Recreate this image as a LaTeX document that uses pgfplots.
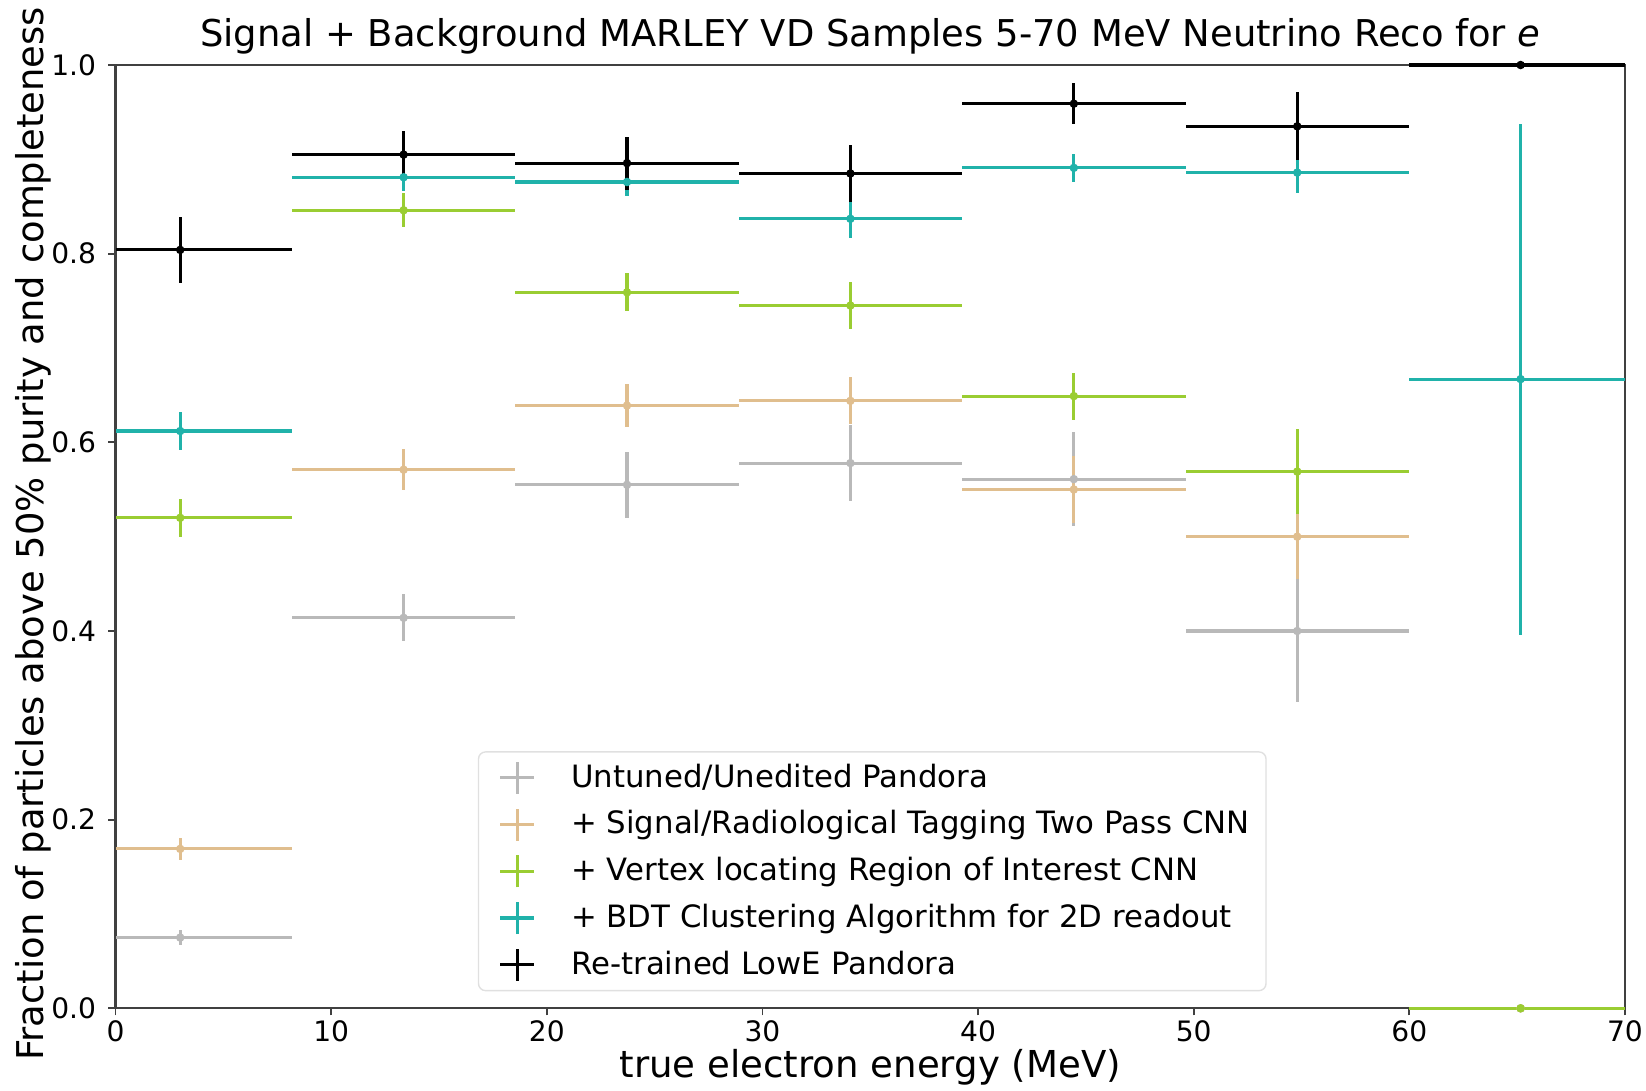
\documentclass[border=0pt]{standalone}
\usepackage{fontspec}
\setmainfont{DejaVu Sans}
\usepackage{pgfplots}
\usepackage{pgfplotstable}
\pgfplotsset{compat=1.18}
\usetikzlibrary{calc}
\definecolor{cgray}{RGB}{185,185,185}
\definecolor{ctan}{RGB}{224,190,142}
\definecolor{cgreen}{RGB}{154,205,50}
\definecolor{ccyan}{RGB}{32,178,170}
\definecolor{cblack}{RGB}{0,0,0}

\pgfplotstableread{
x y xm xp ey
3.00 0.075 3.00 5.18 0.008
13.36 0.414 5.18 5.18 0.025
23.72 0.555 5.18 5.18 0.035
34.08 0.578 5.18 5.18 0.040
44.44 0.561 5.18 5.18 0.050
54.80 0.400 5.18 5.18 0.075
65.16 0.000 5.18 4.84 0.000
}\tgray
\pgfplotstableread{
x y xm xp ey
3.00 0.169 3.00 5.18 0.012
13.36 0.571 5.18 5.18 0.022
23.72 0.639 5.18 5.18 0.023
34.08 0.644 5.18 5.18 0.025
44.44 0.550 5.18 5.18 0.035
54.80 0.500 5.18 5.18 0.045
65.16 0.000 5.18 4.84 0.000
}\ttan
\pgfplotstableread{
x y xm xp ey
3.00 0.520 3.00 5.18 0.020
13.36 0.846 5.18 5.18 0.018
23.72 0.759 5.18 5.18 0.020
34.08 0.745 5.18 5.18 0.025
44.44 0.649 5.18 5.18 0.025
54.80 0.569 5.18 5.18 0.045
65.16 0.000 5.18 4.84 0.000
}\tgreen
\pgfplotstableread{
x y xm xp ey
3.00 0.612 3.00 5.18 0.020
13.36 0.881 5.18 5.18 0.015
23.72 0.876 5.18 5.18 0.015
34.08 0.837 5.18 5.18 0.020
44.44 0.891 5.18 5.18 0.015
54.80 0.886 5.18 5.18 0.022
65.16 0.667 5.18 4.84 0.271
}\tcyan
\pgfplotstableread{
x y xm xp ey
3.00 0.804 3.00 5.18 0.035
13.36 0.905 5.18 5.18 0.025
23.72 0.896 5.18 5.18 0.028
34.08 0.885 5.18 5.18 0.030
44.44 0.959 5.18 5.18 0.022
54.80 0.935 5.18 5.18 0.036
65.16 1.000 5.18 4.84 0.000
}\tblack

\newcommand{\legcross}[1]{\path (0cm,0cm); \draw[#1,line width=0.9pt] (0.10cm,0cm)--(0.44cm,0cm) (0.27cm,-0.16cm)--(0.27cm,0.16cm);}
\pgfplotsset{
  ebar/.style={
    only marks, mark=*, mark size=1.0pt, color=#1,
    legend image code/.code={\legcross{#1}},
    error bars/x dir=both, error bars/x explicit,
    error bars/y dir=both, error bars/y explicit,
    error bars/error mark=none,
    error bars/error bar style={line width=0.9pt, color=#1},
  },
}

\begin{document}
\begin{tikzpicture}
\begin{axis}[
  name=ax,
  scale only axis,
  width=15.09cm, height=9.43cm,
  xmin=0, xmax=70, ymin=0, ymax=1.0,
  clip=false,
  axis line style={black!75, line width=0.6pt},
  xtick={0,10,20,30,40,50,60,70},
  ytick={0,0.2,0.4,0.6,0.8,1.0},
  yticklabel style={/pgf/number format/.cd, fixed, fixed zerofill, precision=1},
  /pgf/number format/assume math mode=true,
  ticklabel style={font=\fontsize{8}{9.5}\selectfont},
  xticklabel style={yshift=2pt},
  tick align=outside,
  major tick length=2pt,
  tick style={black!75, line width=0.5pt},
  xtick pos=bottom, ytick pos=left,
  title={Signal + Background MARLEY VD Samples 5-70 MeV Neutrino Reco for \textit{e}},
  every axis title/.style={at={(axis description cs:0.5,1.03)}, anchor=center, font=\fontsize{10.5}{12}\selectfont},
  xlabel={true electron energy (MeV)},
  ylabel={Fraction of particles above 50\% purity and completeness},
  every axis x label/.style={at={(axis description cs:0.5,-0.0626)}, anchor=center, font=\fontsize{10.55}{12}\selectfont},
  every axis y label/.style={at={(axis description cs:-0.0545,0.503)}, anchor=center, rotate=90, font=\fontsize{10.5}{12}\selectfont},
  legend style={at={(axis description cs:0.24,0.018)}, anchor=south west,
    draw=black!12, rounded corners=2pt, fill=white, fill opacity=0.8, text opacity=1,
    font=\fontsize{8.75}{10}\selectfont,
    row sep=0.6pt, inner xsep=3.2pt, inner ysep=1pt,
    nodes={inner sep=1.5pt, text height=7.5pt, text depth=2.2pt}},
  legend cell align=left,
]
\addplot[ebar=cgray] table[x=x,y=y,x error minus=xm,x error plus=xp,y error=ey]{\tgray};
\addlegendentry{\hspace{0.30cm}Untuned/Unedited Pandora}
\addplot[ebar=ctan] table[x=x,y=y,x error minus=xm,x error plus=xp,y error=ey]{\ttan};
\addlegendentry{\hspace{0.30cm}+ Signal/Radiological Tagging Two Pass CNN}
\addplot[ebar=cgreen] table[x=x,y=y,x error minus=xm,x error plus=xp,y error=ey]{\tgreen};
\addlegendentry{\hspace{0.30cm}+ Vertex locating Region of Interest CNN}
\addplot[ebar=ccyan] table[x=x,y=y,x error minus=xm,x error plus=xp,y error=ey]{\tcyan};
\addlegendentry{\hspace{0.30cm}+ BDT Clustering Algorithm for 2D readout}
\addplot[ebar=cblack] table[x=x,y=y,x error minus=xm,x error plus=xp,y error=ey]{\tblack};
\addlegendentry{\hspace{0.30cm}Re-trained LowE Pandora}
\end{axis}
\pgfresetboundingbox
\path ($(ax.south west)+(-1.155cm,-0.82cm)$) rectangle ($(ax.north east)+(0.21cm,0.65cm)$);
\end{tikzpicture}
\end{document}
